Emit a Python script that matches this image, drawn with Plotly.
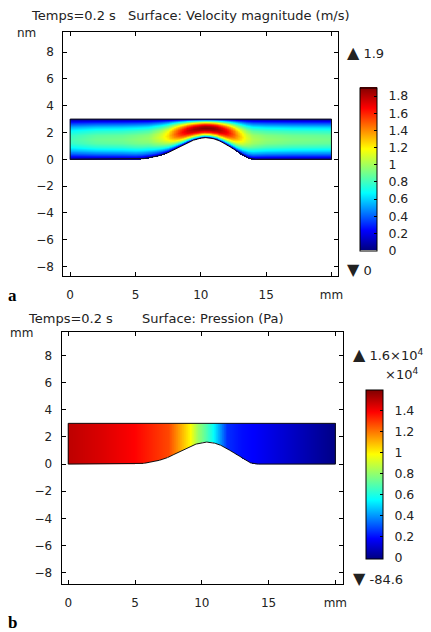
import numpy as np
import plotly.graph_objects as go

W, H = 431, 632
FONT = "DejaVu Sans"

# ---- geometry, mm ----
bump_x = [0, 5.0, 5.5, 6.0, 6.5, 7.0, 7.5, 8.0, 8.5, 9.0, 9.5, 10.0, 10.3, 10.7, 11.2, 11.7, 12.2, 12.7, 13.2, 13.6, 14.0, 20]
bump_y = [0, 0, 0.03, 0.1, 0.2, 0.32, 0.5, 0.75, 1.0, 1.25, 1.45, 1.58, 1.62, 1.6, 1.48, 1.25, 0.95, 0.62, 0.3, 0.1, 0, 0]
channel_top = 3.0
channel_len = 20.0

# ---- velocity readings: local peak speed (m/s) along channel ----
vel_x = [0, 2, 4, 6, 7, 7.5, 8, 8.5, 9, 9.5, 10, 10.4, 11, 11.5, 12, 12.5, 13, 13.5, 14, 15, 17, 20]
vel_peak = [0.8, 0.88, 0.9, 0.97, 1.12, 1.25, 1.45, 1.62, 1.75, 1.83, 1.88, 1.9, 1.88, 1.8, 1.68, 1.5, 1.3, 1.12, 1.02, 0.96, 0.92, 0.9]
# cross-section shape (fraction of gap height -> fraction of peak)
prof_s = [0, 0.05, 0.1, 0.2, 0.3, 0.4, 0.5, 0.6, 0.7, 0.8, 0.9, 0.95, 1]
prof_f = [0, 0.2, 0.37, 0.64, 0.84, 0.96, 1.0, 0.96, 0.84, 0.64, 0.37, 0.2, 0]

# ---- pressure readings (Pa) along channel ----
pr_x = [0, 2.5, 5, 7.5, 9.1, 9.7, 10.3, 10.8, 11.9, 13, 14, 17, 20]
pr_val = [15000, 14500, 13900, 12800, 10000, 8200, 7000, 5800, 2500, 2000, 1800, 900, 0]

vel_ticks = [0, 0.2, 0.4, 0.6, 0.8, 1.0, 1.2, 1.4, 1.6, 1.8]
vel_ticktext = ["0", "0.2", "0.4", "0.6", "0.8", "1", "1.2", "1.4", "1.6", "1.8"]
vel_range = [0, 1.9]
pr_ticks = [0, 2000, 4000, 6000, 8000, 10000, 12000, 14000]
pr_ticktext = ["0", "0.2", "0.4", "0.6", "0.8", "1", "1.2", "1.4"]
pr_range = [-84.6, 16000]

x_ticks = [0, 5, 10, 15, 20]
x_ticktext = ["0", "5", "10", "15", "mm"]
y_ticks = [-8, -6, -4, -2, 0, 2, 4, 6, 8]

cs = [[0, "rgb(0,0,128)"], [0.12, "rgb(0,0,255)"], [0.35, "rgb(0,255,255)"],
      [0.62, "rgb(255,255,0)"], [0.87, "rgb(255,0,0)"], [1, "rgb(128,0,0)"]]

# ---- grid ----
gx = np.linspace(0, channel_len, 401)
gy = np.linspace(0, channel_top, 121)
X, Y = np.meshgrid(gx, gy)
B = np.interp(X, bump_x, bump_y)
Hh = channel_top - B
S = (Y - B) / Hh
inside = S >= 0
U = np.interp(X, vel_x, vel_peak) * np.interp(np.clip(S, 0, 1), prof_s, prof_f)
U = np.where(inside, U, np.nan)
P = np.where(inside, np.interp(X, pr_x, pr_val), np.nan)

by = np.interp(gx, bump_x, bump_y)
ox = list(gx) + [channel_len, 0, 0]
oy = list(by) + [channel_top, channel_top, 0]

fig = go.Figure()

def px2x(p):
    return p / W

def px2y(p):
    return 1 - p / H

NB = "\u00a0\u00a0"

fig.add_trace(go.Heatmap(x=gx, y=gy, z=U, colorscale=cs, zmin=vel_range[0], zmax=vel_range[1],
                         xaxis="x", yaxis="y", hoverinfo="skip",
                         colorbar=dict(x=px2x(364), xanchor="left", xpad=0, ypad=0,
                                       y=px2y(169), yanchor="middle",
                                       thickness=17, len=163, lenmode="pixels",
                                       outlinecolor="black", outlinewidth=1,
                                       ticks="inside", ticklen=3, tickcolor="black",
                                       tickvals=vel_ticks, ticktext=[NB + t for t in vel_ticktext],
                                       tickfont=dict(family=FONT, size=12.5, color="#222"))))
fig.add_trace(go.Scatter(x=ox, y=oy, mode="lines", line=dict(color="#111", width=1),
                         xaxis="x", yaxis="y", hoverinfo="skip", showlegend=False))

fig.add_trace(go.Heatmap(x=gx, y=gy, z=P, colorscale=cs, zmin=pr_range[0], zmax=pr_range[1],
                         xaxis="x2", yaxis="y2", hoverinfo="skip",
                         colorbar=dict(x=px2x(370), xanchor="left", xpad=0, ypad=0,
                                       y=px2y(474), yanchor="middle",
                                       thickness=17, len=169, lenmode="pixels",
                                       outlinecolor="black", outlinewidth=1,
                                       ticks="inside", ticklen=3, tickcolor="black",
                                       tickvals=pr_ticks, ticktext=[NB + t for t in pr_ticktext],
                                       tickfont=dict(family=FONT, size=12.5, color="#222"))))
fig.add_trace(go.Scatter(x=ox, y=oy, mode="lines", line=dict(color="#111", width=1),
                         xaxis="x2", yaxis="y2", hoverinfo="skip", showlegend=False))

axcommon = dict(showgrid=False, zeroline=False, showline=True, linecolor="black", linewidth=1,
                mirror="ticks", ticks="inside", ticklen=4, tickcolor="black",
                tickfont=dict(family=FONT, size=12, color="#222"))

fig.update_layout(
    width=W, height=H, margin=dict(l=0, r=0, t=0, b=0),
    paper_bgcolor="white", plot_bgcolor="white", showlegend=False,
    font=dict(family=FONT, size=12, color="#222"),
    xaxis=dict(domain=[px2x(64), px2x(341.7)], range=[-0.53, 20.48], anchor="y",
               tickvals=x_ticks, ticktext=x_ticktext, ticklabelstandoff=8, **axcommon),
    yaxis=dict(domain=[px2y(276), px2y(32.3)], range=[-8.71, 9.48], anchor="x",
               tickvals=y_ticks, ticklabelstandoff=6, **axcommon),
    xaxis2=dict(domain=[px2x(62.3), px2x(346.7)], range=[-0.5, 20.55], anchor="y2",
                tickvals=x_ticks, ticktext=x_ticktext, ticklabelstandoff=8, **axcommon),
    yaxis2=dict(domain=[px2y(584), px2y(332.3)], range=[-8.84, 9.71], anchor="x2",
                tickvals=y_ticks, ticklabelstandoff=6, **axcommon),
)

def ann(text, x, y, xanchor="left", size=13, family=FONT, color="#222", bold=False):
    fig.add_annotation(text=("<b>%s</b>" % text) if bold else text, x=px2x(x), y=px2y(y),
                       xref="paper", yref="paper", xanchor=xanchor, yanchor="middle",
                       showarrow=False, borderpad=0,
                       font=dict(family=family, size=size, color=color))

UP = '<span style="font-size:16px">▲</span>'
DN = '<span style="font-size:16px">▼</span>'

ann("Temps=0.2 s", 30, 15)
ann("Surface: Velocity magnitude (m/s)", 128, 15)
ann("nm", 16, 33, size=12)
ann(UP + " 1.9", 350, 52)
ann(DN + " 0", 350, 269)
ann("a", 7, 295, size=17, family="Liberation Serif", color="black", bold=True)

ann("Temps=0.2 s", 27, 318)
ann("Surface: Pression (Pa)", 143, 318)
ann("mm", 9, 333, size=12)
ann(UP + " 1.6×10<sup>4</sup>", 356, 354)
ann("×10<sup>4</sup>", 389, 374)
ann(DN + " -84.6", 356, 578)
ann("b", 7, 622, size=17, family="Liberation Serif", color="black", bold=True)

fig.write_html("out.html")
